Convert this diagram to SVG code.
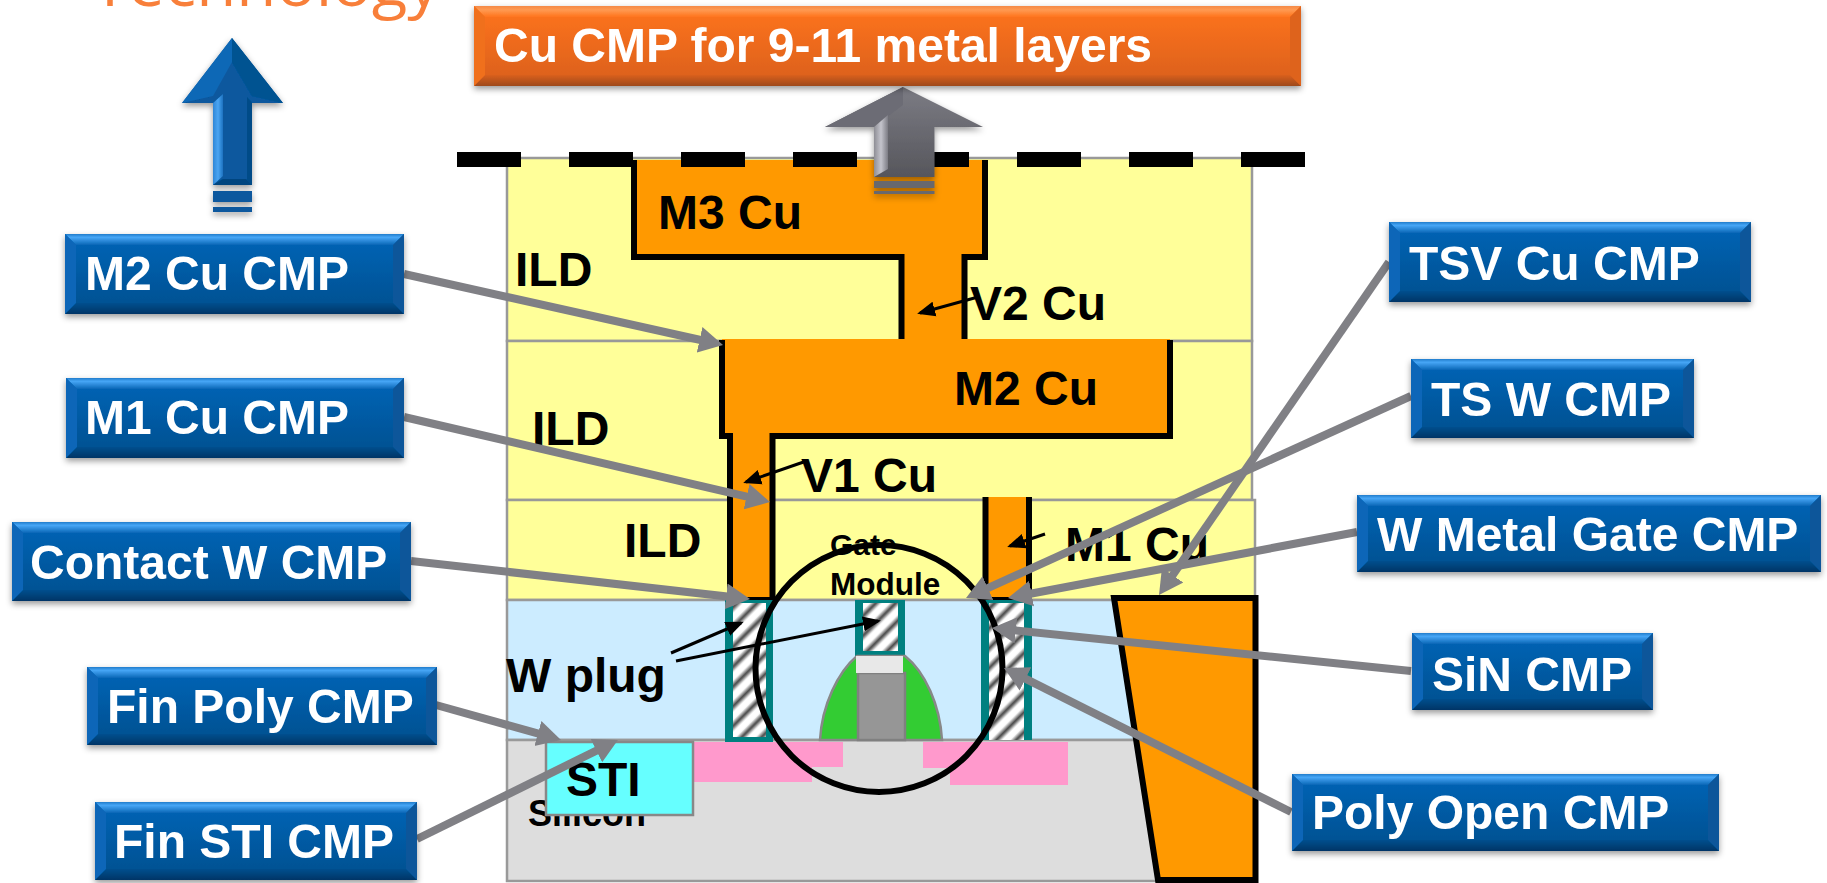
<svg xmlns="http://www.w3.org/2000/svg" width="1827" height="883" viewBox="0 0 1827 883">
<style>
text{font-family:"Liberation Sans",Arial,sans-serif;font-weight:700}
.l{font-size:48px;fill:#fff}
.k{font-size:48px;fill:#000}
.main{fill:url(#gMain)}.bt{fill:url(#gTop)}.bb{fill:url(#gBot)}.bl{fill:#0766B8}.br{fill:#07569A}
.omain{fill:url(#oMain)}.obt{fill:url(#oTop)}.obb{fill:url(#oBot)}.obl{fill:#F0701C}.obr{fill:#DE631A}
.lay{stroke:#999;stroke-width:2.5}
.wall{fill:none;stroke:#000;stroke-width:6}
.con{stroke:#808085;stroke-width:8;fill:none;marker-end:url(#gh)}
.sm{stroke:#000;stroke-width:3;fill:none;marker-end:url(#bh)}
</style>
<defs>
<linearGradient id="gMain" x1="0" y1="0" x2="0" y2="1"><stop offset="0" stop-color="#0565B8"/><stop offset="1" stop-color="#044F8E"/></linearGradient>
<linearGradient id="gTop" x1="0" y1="0" x2="0" y2="1"><stop offset="0" stop-color="#1F7CCB"/><stop offset=".3" stop-color="#46A6F6"/><stop offset="1" stop-color="#0A66B6"/></linearGradient>
<linearGradient id="gBot" x1="0" y1="0" x2="0" y2="1"><stop offset="0" stop-color="#044F8E"/><stop offset="1" stop-color="#033566"/></linearGradient>
<linearGradient id="oMain" x1="0" y1="0" x2="0" y2="1"><stop offset="0" stop-color="#FF741C"/><stop offset="1" stop-color="#D95F1A"/></linearGradient>
<linearGradient id="oTop" x1="0" y1="0" x2="0" y2="1"><stop offset="0" stop-color="#F58A48"/><stop offset=".35" stop-color="#FF9A52"/><stop offset="1" stop-color="#FF741C"/></linearGradient>
<linearGradient id="oBot" x1="0" y1="0" x2="0" y2="1"><stop offset="0" stop-color="#D95F1A"/><stop offset="1" stop-color="#9E4A1C"/></linearGradient>
<linearGradient id="gShaft" x1="0" y1="0" x2="1" y2="0"><stop offset="0" stop-color="#2F86D6"/><stop offset=".5" stop-color="#4BA5F2"/><stop offset="1" stop-color="#1B72C0"/></linearGradient>
<linearGradient id="greyMain" x1="0" y1="0" x2="0" y2="1"><stop offset="0" stop-color="#7C7C84"/><stop offset="1" stop-color="#56565C"/></linearGradient>
<linearGradient id="greyEdge" x1="0" y1="0" x2="1" y2="0"><stop offset="0" stop-color="#8E8E95"/><stop offset=".5" stop-color="#C4C4CC"/><stop offset="1" stop-color="#7C7C84"/></linearGradient>
<linearGradient id="st" x1="0" y1="0" x2="1" y2="0"><stop offset="0" stop-color="#fff"/><stop offset=".38" stop-color="#fff"/><stop offset=".7" stop-color="#444"/><stop offset="1" stop-color="#fff"/></linearGradient>
<pattern id="hatch" width="14" height="14" patternUnits="userSpaceOnUse" patternTransform="rotate(45)"><rect width="14" height="14" fill="url(#st)"/></pattern>
<filter id="sh" x="-5%" y="-15%" width="110%" height="135%"><feDropShadow dx="0" dy="3" stdDeviation="3" flood-color="#000" flood-opacity=".4"/></filter>
<marker id="gh" markerUnits="userSpaceOnUse" markerWidth="30" markerHeight="30" refX="8" refY="15" orient="auto"><path d="M0 2L24 15L0 28z" fill="#808085"/></marker>
<marker id="bh" markerUnits="userSpaceOnUse" markerWidth="24" markerHeight="20" refX="15" refY="10" orient="auto"><path d="M0 2.500L18 10L0 17.500z" fill="#000"/></marker>
</defs>

<rect width="1827" height="883" fill="#fff"/>
<text id="title" x="92" y="6" style="font-family:'Open Sans',sans-serif;font-weight:500;font-size:62px" fill="#F87F3A" textLength="348" lengthAdjust="spacingAndGlyphs">Technology</text>

<g id="cross-section">
<rect class="lay" x="507" y="158" width="745" height="183" fill="#FFFF99"/>
<rect class="lay" x="507" y="341" width="745" height="159" fill="#FFFF99"/>
<rect class="lay" x="507" y="500" width="748" height="100" fill="#FFFF99"/>
<rect class="lay" x="507" y="600" width="650" height="140" fill="#CCECFF"/>
<rect class="lay" x="507" y="740" width="655" height="141" fill="#DDDDDD"/>

<path d="M634 160H985V257H964V341H902V257H634z" fill="#FF9900"/>
<path class="wall" d="M634 160V257H901.500V340M964.500 340V257H985V160"/>
<path d="M722 339H1170V436H772.500V598H730V436H722z" fill="#FF9900"/>
<path class="wall" d="M722 340V436H730V598M772.500 598V436H1170V340"/>
<path d="M728 597h47v4h-47z" fill="#000"/>
<rect x="988" y="497" width="38" height="101" fill="#FF9900"/>
<path class="wall" d="M985.500 497V600M1029 497V600"/>
<path d="M984 597h47v4h-47z" fill="#000"/>

<path d="M693 742H843V767H812V782H693z" fill="#FF99CC"/>
<path d="M923 742H1068V785H950V768H923z" fill="#FF99CC"/>
<text x="528" y="826" font-size="36">Silicon</text>
<rect x="546" y="742" width="147" height="73" fill="#66FFFF" stroke="#888" stroke-width="2.500"/>

<rect x="725" y="600" width="48" height="142" fill="#008080"/>
<rect x="733" y="603" width="33" height="134" fill="url(#hatch)"/>
<rect x="855" y="600" width="50" height="56" fill="#008080"/>
<rect x="863" y="603" width="35" height="48" fill="url(#hatch)"/>
<path d="M820 740C822 705 838 672 857 656H905C925 672 940 705 942 740z" fill="#33CC33" stroke="#888" stroke-width="2.500"/>
<rect x="858" y="673" width="47" height="67" fill="#969696" stroke="#808080" stroke-width="2.500"/>
<rect x="856" y="656" width="47" height="17" fill="#E8E8E8"/>
<rect x="981" y="600" width="51" height="140" fill="#008080"/>
<rect x="989" y="603" width="35" height="137" fill="url(#hatch)"/>

<path d="M1114 598H1255.500V880H1158z" fill="#FF9900" stroke="#000" stroke-width="6"/>

<g id="labels">
<text class="k" x="658" y="229">M3 Cu</text>
<text class="k" x="515" y="286">ILD</text>
<text class="k" x="970" y="320">V2 Cu</text>
<text class="k" x="954" y="405">M2 Cu</text>
<text class="k" x="532" y="445">ILD</text>
<text class="k" x="801" y="492">V1 Cu</text>
<text class="k" x="624" y="557">ILD</text>
<text class="k" x="1065" y="561">M1 Cu</text>
<text x="830" y="555" font-size="30">Gate</text>
<text x="830" y="595" font-size="31.500">Module</text>
<text class="k" x="506" y="692">W plug</text>
<text class="k" x="566" y="796">STI</text>
</g>
<circle cx="879" cy="668.500" r="123.500" fill="none" stroke="#000" stroke-width="6"/>
</g>

<g id="dashes"><path d="M457 159.500H1305" stroke="#000" stroke-width="15" stroke-dasharray="64 48" fill="none"/></g>

<g id="connectors">
<path class="sm" d="M978 297L920 313"/>
<path class="sm" d="M803.600 462L746 482"/>
<path class="sm" d="M1045 534L1010 546"/>
<path class="sm" d="M671 653L741 623"/>
<path class="sm" d="M676 661L878 621"/>
<path class="con" d="M404 274L707.400 341.500"/>
<path class="con" d="M404 417L754.400 498.400"/>
<path class="con" d="M411 561L734.100 597.200"/>
<path class="con" d="M436 705L545.600 735.700"/>
<path class="con" d="M417 839L603.600 747.100"/>
<path class="con" d="M1389 262L1168.100 581.800"/>
<path class="con" d="M1411 396L980.600 591.400"/>
<path class="con" d="M1357 532L1023.700 595"/>
<path class="con" d="M1411 671L1007.900 629.600"/>
<path class="con" d="M1291 812L1018.300 675.200"/>
</g>

<g id="blue-arrow" filter="url(#sh)">
<path d="M232 38L283 103H252V185H213V103H182z" fill="#07589E"/>
<path d="M232 38L182 103L213 96L232 62z" fill="#0F68B6"/>
<path d="M232 38L283 103L252 96L232 62z" fill="#065291"/>
<path d="M213 103l10-9v82l-10 9z" fill="url(#gShaft)"/>
<path d="M252 103l-5-6v83l5 5z" fill="#054C88"/>
<path d="M213 185h39l-6-6h-23z" fill="#04457F"/>
<rect x="213" y="191" width="39" height="11" fill="#07589E"/>
<rect x="213" y="207" width="39" height="5" fill="#07589E"/>
</g>

<g id="grey-arrow" filter="url(#sh)">
<path d="M903 87L983 127H934.500V177H874V127H825z" fill="url(#greyMain)"/>
<path d="M903 87L825 127H874L903 105z" fill="#6C6C74"/>
<path d="M874 127l14 -12v54l-14 8z" fill="url(#greyEdge)"/>
<rect x="874" y="181" width="60.500" height="7" fill="#67676E"/>
<rect x="874" y="191" width="60.500" height="3" fill="#67676E"/>
</g>

<g id="n-cu" filter="url(#sh)"><rect class="omain" x="474" y="6" width="827" height="80"/><path class="obt" d="M474 6h827l-11 11h-805z"/><path class="obb" d="M474 86h827l-11-11h-805z"/><path class="obl" d="M474 6v80l11-11v-58z"/><path class="obr" d="M1301 6v80l-11-11v-58z"/><text class="l" x="494" y="62">Cu CMP for 9-11 metal layers</text></g>

<g id="n-m2" filter="url(#sh)"><rect class="main" x="65" y="234" width="339" height="80"/><path class="bt" d="M65 234h339l-11 11h-317z"/><path class="bb" d="M65 314h339l-11-11h-317z"/><path class="bl" d="M65 234v80l11-11v-58z"/><path class="br" d="M404 234v80l-11-11v-58z"/><text class="l" x="85" y="290">M2 Cu CMP</text></g>

<g id="n-m1" filter="url(#sh)"><rect class="main" x="66" y="378" width="338" height="80"/><path class="bt" d="M66 378h338l-11 11h-316z"/><path class="bb" d="M66 458h338l-11-11h-316z"/><path class="bl" d="M66 378v80l11-11v-58z"/><path class="br" d="M404 378v80l-11-11v-58z"/><text class="l" x="85" y="434">M1 Cu CMP</text></g>

<g id="n-contact" filter="url(#sh)"><rect class="main" x="12" y="522" width="399" height="79"/><path class="bt" d="M12 522h399l-11 11h-377z"/><path class="bb" d="M12 601h399l-11-11h-377z"/><path class="bl" d="M12 522v79l11-11v-57z"/><path class="br" d="M411 522v79l-11-11v-57z"/><text class="l" x="30" y="579">Contact W CMP</text></g>

<g id="n-finpoly" filter="url(#sh)"><rect class="main" x="87" y="667" width="350" height="78"/><path class="bt" d="M87 667h350l-11 11h-328z"/><path class="bb" d="M87 745h350l-11-11h-328z"/><path class="bl" d="M87 667v78l11-11v-56z"/><path class="br" d="M437 667v78l-11-11v-56z"/><text class="l" x="107" y="723">Fin Poly CMP</text></g>

<g id="n-finsti" filter="url(#sh)"><rect class="main" x="95" y="802" width="322" height="78"/><path class="bt" d="M95 802h322l-11 11h-300z"/><path class="bb" d="M95 880h322l-11-11h-300z"/><path class="bl" d="M95 802v78l11-11v-56z"/><path class="br" d="M417 802v78l-11-11v-56z"/><text class="l" x="114" y="858">Fin STI CMP</text></g>

<g id="n-tsv" filter="url(#sh)"><rect class="main" x="1389" y="222" width="362" height="80"/><path class="bt" d="M1389 222h362l-11 11h-340z"/><path class="bb" d="M1389 302h362l-11-11h-340z"/><path class="bl" d="M1389 222v80l11-11v-58z"/><path class="br" d="M1751 222v80l-11-11v-58z"/><text class="l" x="1409" y="280">TSV Cu CMP</text></g>

<g id="n-tsw" filter="url(#sh)"><rect class="main" x="1411" y="359" width="283" height="79"/><path class="bt" d="M1411 359h283l-11 11h-261z"/><path class="bb" d="M1411 438h283l-11-11h-261z"/><path class="bl" d="M1411 359v79l11-11v-57z"/><path class="br" d="M1694 359v79l-11-11v-57z"/><text class="l" x="1431" y="416">TS W CMP</text></g>

<g id="n-wmg" filter="url(#sh)"><rect class="main" x="1357" y="495" width="464" height="77"/><path class="bt" d="M1357 495h464l-11 11h-442z"/><path class="bb" d="M1357 572h464l-11-11h-442z"/><path class="bl" d="M1357 495v77l11-11v-55z"/><path class="br" d="M1821 495v77l-11-11v-55z"/><text class="l" x="1377" y="551">W Metal Gate CMP</text></g>

<g id="n-sin" filter="url(#sh)"><rect class="main" x="1412" y="633" width="241" height="77"/><path class="bt" d="M1412 633h241l-11 11h-219z"/><path class="bb" d="M1412 710h241l-11-11h-219z"/><path class="bl" d="M1412 633v77l11-11v-55z"/><path class="br" d="M1653 633v77l-11-11v-55z"/><text class="l" x="1432" y="691">SiN CMP</text></g>

<g id="n-poly" filter="url(#sh)"><rect class="main" x="1292" y="774" width="427" height="77"/><path class="bt" d="M1292 774h427l-11 11h-405z"/><path class="bb" d="M1292 851h427l-11-11h-405z"/><path class="bl" d="M1292 774v77l11-11v-55z"/><path class="br" d="M1719 774v77l-11-11v-55z"/><text class="l" x="1312" y="829">Poly Open CMP</text></g>
</svg>
